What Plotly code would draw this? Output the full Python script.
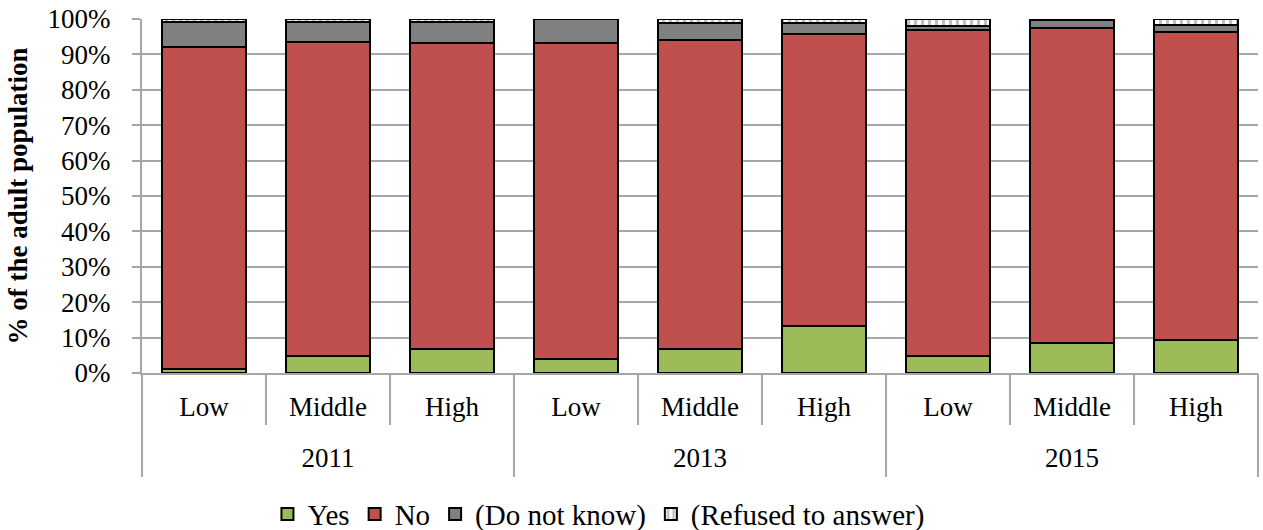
import plotly.graph_objects as go

years = ["2011", "2011", "2011", "2013", "2013", "2013", "2015", "2015", "2015"]
levels = ["Low", "Middle", "High"] * 3
year_groups = ["2011", "2013", "2015"]
yes = [1.0, 4.9, 6.8, 4.0, 6.7, 13.3, 4.7, 8.4, 9.3]
no = [91.2, 88.5, 86.3, 89.1, 87.4, 82.5, 92.2, 89.2, 87.0]
dnk = [6.9, 5.7, 6.0, 6.9, 4.7, 3.1, 1.2, 2.1, 2.0]
refused = [0.9, 0.9, 0.9, 0.0, 1.2, 1.1, 1.9, 0.3, 1.7]

keys = [f"{y} {l}" for y, l in zip(years, levels)]
font = "Liberation Serif, Times New Roman, serif"
line = dict(color="black", width=2)
grey = "#A6A6A6"
fs = 27

fig = go.Figure()
fig.add_bar(x=keys, y=yes, name="Yes", marker=dict(color="#9BBB59", line=line))
fig.add_bar(x=keys, y=no, name="No", marker=dict(color="#C0504D", line=line))
fig.add_bar(x=keys, y=dnk, name="(Do not know)", marker=dict(color="#808080", line=line))
fig.add_bar(x=keys, y=refused, name="(Refused to answer)",
            marker=dict(color="white", line=line,
                        pattern=dict(shape="|", fgcolor="#808080", bgcolor="white", size=7, solidity=0.45)))
# invisible helper trace to define year groups on the second category axis
fig.add_scatter(x=year_groups, y=[0, 0, 0], xaxis="x2", mode="markers",
                marker=dict(opacity=0), showlegend=False, hoverinfo="skip")

fig.update_layout(
    barmode="stack",
    bargap=0.33,
    width=1263, height=530,
    margin=dict(l=142, r=5, t=19, b=157),
    plot_bgcolor="white", paper_bgcolor="white",
    font=dict(family=font, size=fs, color="black"),
    legend=dict(orientation="h", x=0.409, xanchor="center", yref="container", y=0.03,
                yanchor="middle", font=dict(size=29), traceorder="normal", itemwidth=30),
    yaxis=dict(range=[0, 100], dtick=10, ticksuffix="%", showgrid=True, gridcolor=grey,
               gridwidth=2, showline=True, linecolor=grey, linewidth=2,
               ticks="outside", ticklen=8, tickcolor=grey, tickwidth=2,
               automargin=False, ticklabelstandoff=16,
               title=dict(text="<b>% of the adult population</b>", font=dict(size=fs), standoff=12),
               zeroline=False),
    xaxis=dict(type="category", range=[-0.5, 8.5], tickvals=keys, ticktext=levels,
               showline=True, linecolor=grey, linewidth=2,
               ticks="outside", tickson="boundaries", ticklen=50, tickcolor=grey, tickwidth=2,
               ticklabelstandoff=9, automargin=False, showgrid=False),
    xaxis2=dict(type="category", overlaying="x", anchor="y", side="bottom", range=[-0.5, 2.5],
                categoryarray=year_groups, showline=False,
                ticks="outside", tickson="boundaries", ticklen=103, tickcolor=grey, tickwidth=2,
                ticklabelstandoff=66, automargin=False, showgrid=False),
)

fig.write_html("out.html", config={"displayModeBar": False},
               post_script="document.body.style.margin='0px';")
